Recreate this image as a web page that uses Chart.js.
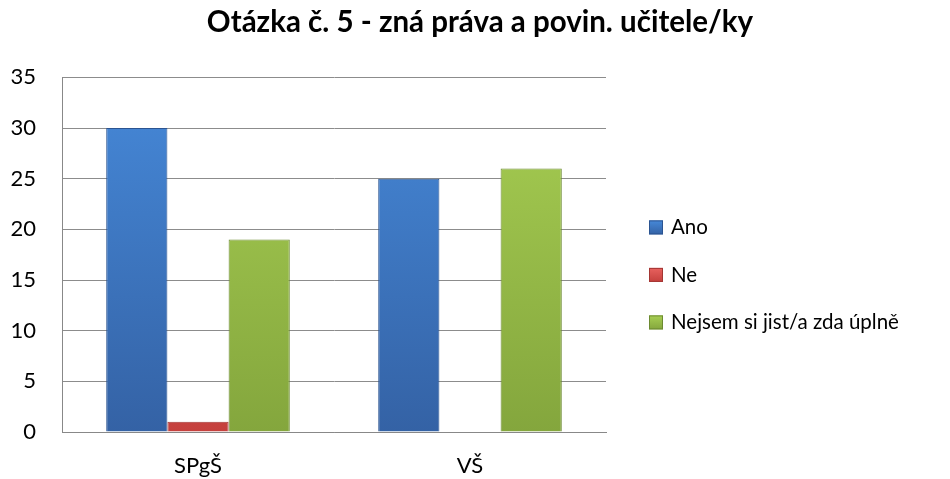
<!DOCTYPE html>
<html>
<head>
<meta charset="utf-8">
<script src="https://cdn.jsdelivr.net/npm/chart.js@4/dist/chart.umd.min.js"></script>
<style>
  html, body { margin: 0; padding: 0; background: #fff; }
  #wrap { width: 950px; height: 479px; }
</style>
</head>
<body>
<div id="wrap"><canvas id="chart"></canvas></div>
<script>
const categories = ['SPgŠ', 'VŠ'];
const seriesNames = ['Ano', 'Ne', 'Nejsem si jist/a zda úplně'];
const ano = [30, 25];
const ne = [1, 0];
const nejsem = [19, 26];
const yTicks = [0, 5, 10, 15, 20, 25, 30, 35];

const font = 'Lato, "Open Sans", sans-serif';

// top / bottom / edge colour for each series
const palette = [
  ['#4689d9', '#3462a5', '#2b5491'],
  ['#e8625f', '#c5403d', '#a33633'],
  ['#a8cf53', '#84a63d', '#6c8a31']
];

// light top -> dark bottom, like the bevelled Excel bars
function grad(top, bottom) {
  return context => {
    const { ctx, chartArea } = context.chart;
    if (!chartArea) return bottom;
    const g = ctx.createLinearGradient(0, chartArea.top, 0, chartArea.bottom);
    g.addColorStop(0, top);
    g.addColorStop(1, bottom);
    return g;
  };
}

// Chart.js caps a side legend at a fraction of the width, so draw it by hand
// in the space kept free by the empty right axis
const sideLegend = {
  id: 'sideLegend',
  afterDraw(chart) {
    const { ctx, chartArea } = chart;
    const x = chartArea.right + 43;
    ctx.save();
    ctx.font = '20.5px ' + font;
    ctx.textBaseline = 'middle';
    chart.data.datasets.forEach((ds, i) => {
      const y = chartArea.top + 150 + i * 47.5;
      const g = ctx.createLinearGradient(0, y - 7, 0, y + 7);
      g.addColorStop(0, palette[i][0]);
      g.addColorStop(1, palette[i][1]);
      ctx.fillStyle = g;
      ctx.fillRect(x, y - 7, 14, 14);
      ctx.strokeStyle = palette[i][2];
      ctx.lineWidth = 1;
      ctx.strokeRect(x + 0.5, y - 6.5, 13, 13);
      ctx.fillStyle = '#000';
      ctx.fillText(ds.label, x + 22, y);
    });
    ctx.restore();
  }
};

new Chart(document.getElementById('chart'), {
  type: 'bar',
  data: {
    labels: categories,
    datasets: [ano, ne, nejsem].map((values, i) => ({
      label: seriesNames[i],
      data: values,
      backgroundColor: grad(palette[i][0], palette[i][1]),
      borderColor: palette[i][2],
      borderWidth: 1
    }))
  },
  options: {
    responsive: true,
    maintainAspectRatio: false,
    animation: false,
    barPercentage: 1,
    categoryPercentage: 0.675,
    layout: { padding: { top: 0, left: 10, right: 0, bottom: 0 } },
    plugins: {
      title: {
        display: true,
        text: 'Otázka č. 5 - zná práva a povin. učitele/ky',
        color: '#000',
        font: { family: font, size: 29.5, weight: 'bold' },
        padding: { top: 5, bottom: 37 }
      },
      legend: { display: false },
      tooltip: { enabled: false }
    },
    scales: {
      x: {
        grid: { display: false },
        border: { color: '#888', width: 1 },
        ticks: { color: '#000', font: { family: font, size: 22 }, padding: 13 },
        afterFit: axis => { axis.height = 47; }
      },
      y: {
        min: 0,
        max: 35,
        afterBuildTicks: axis => { axis.ticks = yTicks.map(v => ({ value: v })); },
        grid: { color: '#8c8c8c', lineWidth: 1, drawTicks: false },
        border: { color: '#888', width: 1 },
        ticks: { color: '#000', font: { family: font, size: 22 }, padding: 26 },
        afterFit: axis => { axis.width = 52; }
      },
      // empty axis, only keeps room for the legend
      legendRoom: {
        position: 'right',
        display: true,
        grid: { display: false },
        border: { display: false },
        ticks: { display: false },
        afterFit: axis => { axis.width = 344; }
      }
    }
  },
  plugins: [sideLegend]
});
</script>
</body>
</html>
